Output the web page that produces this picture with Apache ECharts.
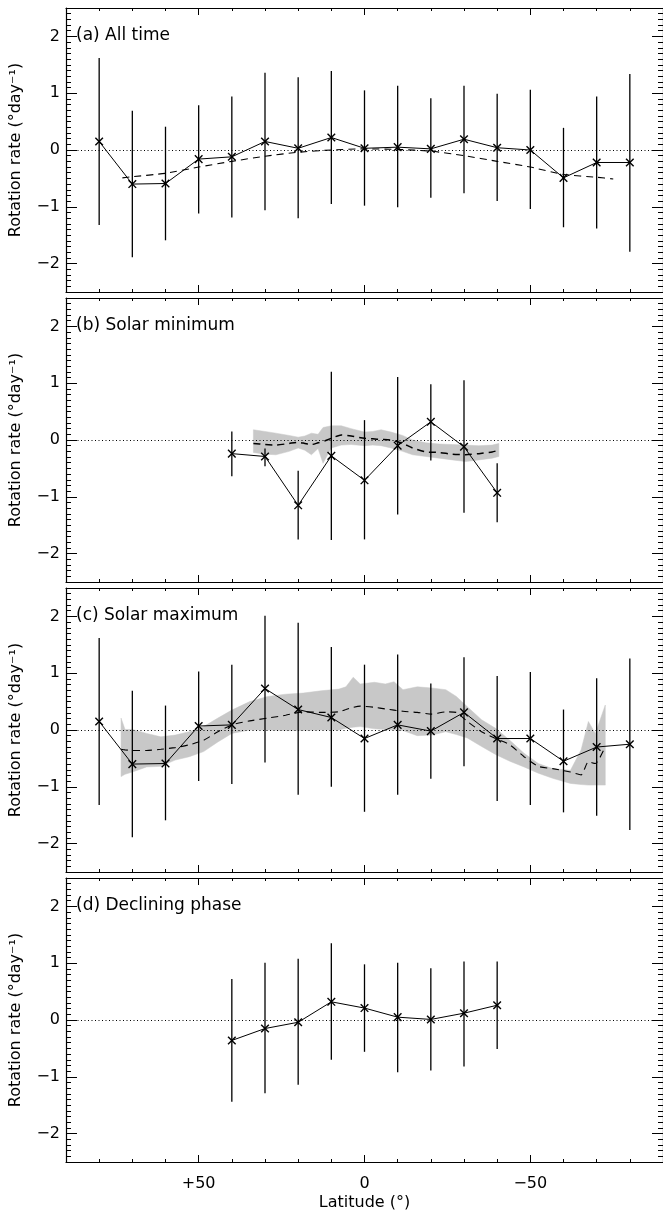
<!DOCTYPE html>
<html>
<head>
<meta charset="utf-8">
<script src="https://cdn.jsdelivr.net/npm/echarts@6/dist/echarts.min.js"></script>
<style>
  html, body { margin: 0; padding: 0; background: #fff; }
  #chart { width: 663px; height: 1212px; }
</style>
</head>
<body>
<div id="chart"></div>
<script>
// latitude bins (deg), shared by panels a and c
const lats = [80, 70, 60, 50, 40, 30, 20, 10, 0, -10, -20, -30, -40, -50, -60, -70, -80];
const lowLats = [40, 30, 20, 10, 0, -10, -20, -30, -40];

// (a) all time
const allRate = [0.15, -0.6, -0.59, -0.16, -0.12, 0.15, 0.03, 0.22, 0.03, 0.05, 0.02, 0.19, 0.04, 0.0, -0.49, -0.22, -0.22];
const allHi = [1.62, 0.69, 0.41, 0.79, 0.94, 1.36, 1.28, 1.39, 1.05, 1.13, 0.91, 1.13, 0.99, 1.06, 0.39, 0.94, 1.34];
const allLo = [-1.32, -1.89, -1.59, -1.12, -1.19, -1.06, -1.2, -0.95, -0.98, -1.01, -0.84, -0.76, -0.9, -1.04, -1.36, -1.38, -1.79];
const allFitLat = [73, 70, 60, 50, 40, 30, 20, 10, 0, -10, -20, -30, -40, -50, -60, -70, -75];
const allFit = [-0.49, -0.47, -0.41, -0.3, -0.2, -0.11, -0.04, 0.0, 0.02, 0.01, -0.02, -0.1, -0.2, -0.3, -0.43, -0.48, -0.51];

// (b) solar minimum
const minRate = [-0.24, -0.29, -1.15, -0.28, -0.71, -0.1, 0.32, -0.12, -0.93];
const minHi = [0.15, -0.15, -0.54, 1.2, 0.35, 1.11, 0.98, 1.05, -0.41];
const minLo = [-0.64, -0.46, -1.75, -1.76, -1.75, -1.31, -0.36, -1.28, -1.45];
const minBandLat = [33.5, 30, 26.7, 22.7, 20, 18, 16, 14, 12.5, 10, 7, 4, 0, -2.5, -5, -8, -11.5, -14.5, -18.5, -22.5, -26.5, -30.5, -34.5, -38.5, -40.5];
const minBandHi = [0.18, 0.15, 0.12, 0.08, 0.05, 0.07, 0.12, 0.1, 0.22, 0.25, 0.25, 0.2, 0.14, 0.15, 0.18, 0.14, 0.08, 0.0, -0.05, -0.07, -0.08, -0.09, -0.1, -0.09, -0.06];
const minBandLo = [-0.22, -0.25, -0.26, -0.2, -0.14, -0.18, -0.26, -0.15, -0.41, -0.14, -0.09, -0.08, -0.1, -0.09, -0.1, -0.14, -0.2, -0.26, -0.29, -0.32, -0.35, -0.38, -0.35, -0.32, -0.29];
const minBandMid = [-0.06, -0.08, -0.09, -0.06, -0.04, -0.06, -0.08, -0.05, -0.03, 0.03, 0.09, 0.07, 0.03, 0.02, 0.01, 0.0, -0.06, -0.14, -0.21, -0.22, -0.25, -0.26, -0.24, -0.21, -0.18];

// (c) solar maximum
const maxRate = [0.15, -0.6, -0.59, 0.07, 0.09, 0.73, 0.36, 0.22, -0.15, 0.09, -0.02, 0.31, -0.15, -0.15, -0.55, -0.3, -0.25];
const maxHi = [1.62, 0.69, 0.43, 1.03, 1.15, 2.01, 1.89, 1.46, 1.15, 1.33, 0.82, 1.28, 0.95, 1.02, 0.36, 0.91, 1.26];
const maxLo = [-1.32, -1.89, -1.59, -0.9, -0.95, -0.57, -1.14, -1.0, -1.44, -1.14, -0.86, -0.64, -1.25, -1.32, -1.45, -1.51, -1.76];
const maxBandLat = [73.4, 72.2, 70, 65.7, 61.4, 57.1, 52.8, 48.5, 44.2, 40, 34.6, 29.2, 23.8, 18.5, 13.1, 7.7, 5.6, 3.4, 1.3, -3, -6.3, -8.9, -11.6, -15.9, -20.2, -24.5, -27.7, -31, -35.3, -39.5, -43.8, -48.1, -52.4, -56.7, -62.1, -65.3, -67.5, -69.6, -72.6];
const maxBandHi = [0.21, 0.01, 0.01, -0.06, -0.12, -0.09, -0.03, 0.06, 0.21, 0.35, 0.5, 0.59, 0.63, 0.65, 0.69, 0.72, 0.76, 0.93, 0.81, 0.84, 0.81, 0.85, 0.71, 0.76, 0.74, 0.71, 0.59, 0.41, 0.18, 0.03, -0.18, -0.41, -0.59, -0.68, -0.71, -0.35, 0.15, -0.06, 0.44];
const maxBandLo = [-0.82, -0.78, -0.74, -0.65, -0.64, -0.53, -0.47, -0.38, -0.21, -0.06, 0.0, 0.0, -0.01, -0.01, 0.0, 0.0, 0.03, 0.05, 0.06, 0.02, 0.01, 0.0, -0.01, -0.1, -0.09, -0.03, -0.08, -0.14, -0.29, -0.43, -0.55, -0.65, -0.76, -0.85, -0.94, -0.96, -0.97, -0.97, -0.97];
const maxBandMid = [-0.34, -0.35, -0.36, -0.36, -0.34, -0.31, -0.26, -0.18, -0.03, 0.09, 0.16, 0.21, 0.26, 0.32, 0.31, 0.32, 0.36, 0.4, 0.42, 0.4, 0.37, 0.35, 0.33, 0.31, 0.28, 0.32, 0.31, 0.15, -0.03, -0.15, -0.26, -0.47, -0.64, -0.68, -0.74, -0.79, -0.56, -0.59, -0.29];

// (d) declining phase
const decRate = [-0.36, -0.15, -0.04, 0.32, 0.21, 0.05, 0.01, 0.12, 0.26];
const decHi = [0.72, 1.01, 1.08, 1.35, 0.98, 1.01, 0.91, 1.03, 1.03];
const decLo = [-1.44, -1.29, -1.14, -0.7, -0.56, -0.92, -0.89, -0.82, -0.51];

const titles = ["(a) All time", "(b) Solar minimum", "(c) Solar maximum", "(d) Declining phase"];
const yTicks = [-2, -1, 0, 1, 2];
const xTicks = [-50, 0, 50];

const FONT = "DejaVu Sans";
const gridTops = [8, 298, 588, 878];
const gridH = 284;

const chart = echarts.init(document.getElementById("chart"));

function minus(v) {
  return String(v).replace("-", "\u2212");
}

function makeXAxes(g, withLabels) {
  const base = {
    gridIndex: g,
    type: "value",
    min: -90,
    max: 90,
    inverse: true,
    splitLine: { show: false },
    axisLine: { onZero: false, lineStyle: { color: "#000", width: 1 } },
    axisLabel: { show: false },
  };
  const list = [];
  ["bottom", "top"].forEach((pos) => {
    list.push(Object.assign({}, base, {
      position: pos,
      interval: 10,
      axisLine: { show: true, onZero: false, lineStyle: { color: "#000", width: 1.2 } },
      axisTick: { inside: true, length: 3, lineStyle: { color: "#000", width: 1 } },
    }));
    const major = Object.assign({}, base, {
      position: pos,
      axisLine: { show: false, onZero: false },
      axisTick: { inside: true, length: 7, customValues: xTicks, lineStyle: { color: "#000", width: 1 } },
    });
    if (withLabels && pos === "bottom") {
      major.axisLabel = {
        show: true,
        customValues: xTicks,
        margin: 14,
        fontFamily: FONT,
        fontSize: 16,
        color: "#000",
        formatter: (v) => (v > 0 ? "+" + v : minus(v)),
      };
      major.name = "Latitude (\u00b0)";
      major.nameLocation = "middle";
      major.nameGap = 33;
      major.nameTextStyle = { fontFamily: FONT, fontSize: 16, color: "#000" };
    }
    list.push(major);
  });
  return list;
}

function makeYAxes(g) {
  const base = {
    gridIndex: g,
    type: "value",
    min: -2.5,
    max: 2.5,
    splitLine: { show: false },
    axisLabel: { show: false },
  };
  const list = [];
  ["left", "right"].forEach((pos) => {
    list.push(Object.assign({}, base, {
      position: pos,
      interval: 0.1,
      axisLine: { show: true, onZero: false, lineStyle: { color: "#000", width: 1.2 } },
      axisTick: { inside: true, length: 5, lineStyle: { color: "#000", width: 1 } },
    }));
    const major = Object.assign({}, base, {
      position: pos,
      axisLine: { show: false, onZero: false },
      axisTick: { inside: true, length: 11, customValues: yTicks, lineStyle: { color: "#000", width: 1 } },
    });
    if (pos === "left") {
      major.axisLabel = {
        show: true,
        customValues: yTicks,
        margin: 6,
        fontFamily: FONT,
        fontSize: 16,
        color: "#000",
        formatter: (v) => minus(v),
      };
      major.name = "Rotation rate (\u00b0day\u207b\u00b9)";
      major.nameLocation = "middle";
      major.nameGap = 42;
      major.nameTextStyle = { fontFamily: FONT, fontSize: 16, color: "#000" };
    }
    list.push(major);
  });
  return list;
}

function errorSeries(g, xs, rate, hi, lo) {
  return {
    type: "custom",
    xAxisIndex: g * 4,
    yAxisIndex: g * 4,
    z: 5,
    data: xs.map((x, i) => [x, rate[i], hi[i], lo[i]]),
    renderItem(params, api) {
      const x = api.value(0);
      const p = api.coord([x, api.value(1)]);
      const top = api.coord([x, api.value(2)]);
      const bot = api.coord([x, api.value(3)]);
      const s = 3.8;
      const st = { stroke: "#000", lineWidth: 1.3 };
      return {
        type: "group",
        children: [
          { type: "line", shape: { x1: top[0], y1: top[1], x2: bot[0], y2: bot[1] }, style: st },
          { type: "line", shape: { x1: p[0] - s, y1: p[1] - s, x2: p[0] + s, y2: p[1] + s }, style: { stroke: "#000", lineWidth: 1.4 } },
          { type: "line", shape: { x1: p[0] - s, y1: p[1] + s, x2: p[0] + s, y2: p[1] - s }, style: { stroke: "#000", lineWidth: 1.4 } },
        ],
      };
    },
  };
}

function rateLine(g, xs, rate) {
  return {
    type: "line",
    xAxisIndex: g * 4,
    yAxisIndex: g * 4,
    z: 4,
    data: xs.map((x, i) => [x, rate[i]]),
    showSymbol: false,
    lineStyle: { color: "#000", width: 1 },
    markLine: {
      silent: true,
      symbol: "none",
      label: { show: false },
      lineStyle: { color: "#000", width: 1, type: [1, 2.5] },
      data: [{ yAxis: 0 }],
    },
  };
}

function dashedLine(g, xs, ys, w) {
  return {
    type: "line",
    xAxisIndex: g * 4,
    yAxisIndex: g * 4,
    z: 3,
    data: xs.map((x, i) => [x, ys[i]]),
    showSymbol: false,
    smooth: 0.2,
    lineStyle: { color: "#000", width: w || 1.1, type: [7, 5] },
  };
}

function bandSeries(g, xs, hi, lo) {
  return {
    type: "custom",
    xAxisIndex: g * 4,
    yAxisIndex: g * 4,
    z: 1,
    data: xs.map((x, i) => [x, hi[i], lo[i]]),
    renderItem(params, api) {
      if (params.dataIndex !== 0) return;
      const upper = xs.map((x, i) => api.coord([x, hi[i]]));
      const lower = xs.map((x, i) => api.coord([x, lo[i]])).reverse();
      return {
        type: "polygon",
        shape: { points: upper.concat(lower) },
        style: { fill: "#c8c8c8", stroke: "#c8c8c8", lineWidth: 0.5 },
      };
    },
  };
}

const grid = gridTops.map((t) => ({ left: 66, width: 598, top: t, height: gridH }));
let xAxis = [];
let yAxis = [];
for (let g = 0; g < 4; g++) {
  xAxis = xAxis.concat(makeXAxes(g, g === 3));
  yAxis = yAxis.concat(makeYAxes(g));
}

const series = [
  // (a)
  rateLine(0, lats, allRate),
  dashedLine(0, allFitLat, allFit),
  errorSeries(0, lats, allRate, allHi, allLo),
  // (b)
  bandSeries(1, minBandLat, minBandHi, minBandLo),
  dashedLine(1, minBandLat, minBandMid, 1.5),
  rateLine(1, lowLats, minRate),
  errorSeries(1, lowLats, minRate, minHi, minLo),
  // (c)
  bandSeries(2, maxBandLat, maxBandHi, maxBandLo),
  dashedLine(2, maxBandLat, maxBandMid),
  rateLine(2, lats, maxRate),
  errorSeries(2, lats, maxRate, maxHi, maxLo),
  // (d)
  rateLine(3, lowLats, decRate),
  errorSeries(3, lowLats, decRate, decHi, decLo),
];

const option = {
  animation: false,
  backgroundColor: "#fff",
  title: titles.map((t, i) => ({
    text: t,
    left: 76,
    top: gridTops[i] + 19,
    padding: 0,
    textStyle: { fontFamily: FONT, fontSize: 17, fontWeight: "normal", color: "#000" },
  })),
  grid: grid,
  xAxis: xAxis,
  yAxis: yAxis,
  series: series,
};
option && chart.setOption(option);
</script>
</body>
</html>
